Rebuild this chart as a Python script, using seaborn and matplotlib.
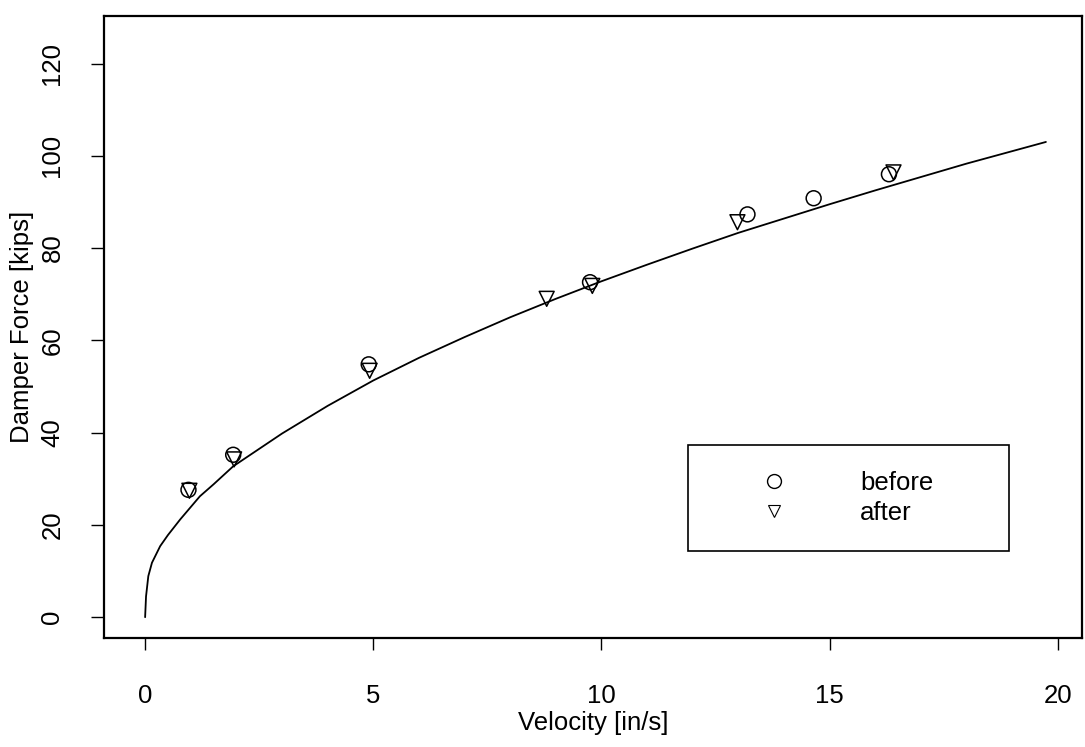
import pandas as pd
import seaborn as sns
import matplotlib.pyplot as plt
from matplotlib.lines import Line2D

# fitted damper curve
curve_v = [0, 0.02, 0.07, 0.15, 0.33, 0.5, 0.77, 1.2, 1.5, 1.93, 3, 4, 5, 6, 7,
           8, 9, 10, 11, 12, 13, 14, 15, 16, 17, 18, 19, 19.74]
curve_f = [0, 4.5, 8.9, 11.8, 15.4, 17.8, 21.2, 26.2, 28.8, 32.7, 39.8, 45.8, 51.3,
           56.2, 60.7, 65.0, 69.0, 72.8, 76.4, 79.9, 83.3, 86.4, 89.5, 92.5, 95.4,
           98.3, 101.0, 103.0]

# test points
before_v = [0.95, 1.93, 4.9, 9.75, 13.2, 14.65, 16.3]
before_f = [27.6, 35.2, 54.8, 72.6, 87.3, 90.8, 96.0]
after_v = [0.97, 1.95, 4.92, 8.8, 9.8, 12.98, 16.4]
after_f = [27.4, 34.2, 53.4, 69.0, 71.8, 85.6, 96.4]

curve = pd.DataFrame({"v": curve_v, "f": curve_f})
pts = pd.DataFrame({
    "v": before_v + after_v,
    "f": before_f + after_f,
    "state": ["before"] * len(before_v) + ["after"] * len(after_v),
})

sns.set_style("ticks")
plt.rcParams["font.family"] = ["Liberation Sans", "DejaVu Sans"]
plt.rcParams["font.size"] = 18.5
plt.rcParams["text.color"] = "black"
plt.rcParams["axes.labelcolor"] = "black"
plt.rcParams["xtick.color"] = "black"
plt.rcParams["ytick.color"] = "black"

fig = plt.figure(figsize=(10.85, 7.47), dpi=100)
ax = fig.add_axes([0.0959, 0.146, 0.9013, 0.8326])

sns.lineplot(data=curve, x="v", y="f", ax=ax, color="black", linewidth=1.3)
sns.scatterplot(data=pts, x="v", y="f", style="state",
                markers={"before": "o", "after": "v"}, s=115,
                color="black", facecolor="none", edgecolor="black",
                linewidth=1.1, ax=ax, legend=False)

ax.set_xlim(-0.9, 20.53)
ax.set_ylim(-4.5, 130.3)
ax.set_xticks([0, 5, 10, 15, 20])
ax.set_yticks([0, 20, 40, 60, 80, 100, 120])
ax.set_xlabel("Velocity [in/s]", labelpad=2)
ax.set_ylabel("Damper Force [kips]", labelpad=5)
ax.tick_params(axis="x", length=8.5, width=1, pad=25, labelsize=18.5)
ax.tick_params(axis="y", length=9.5, width=1, pad=19, labelsize=18.5)
for lab in ax.get_yticklabels():
    lab.set_rotation(90)
    lab.set_va("center")
for sp in ax.spines.values():
    sp.set_visible(True)
    sp.set_linewidth(1.6)
    sp.set_color("black")

handles = [
    Line2D([], [], marker="o", linestyle="none", markersize=10,
           markerfacecolor="none", markeredgecolor="black", markeredgewidth=1),
    Line2D([], [], marker="v", linestyle="none", markersize=9,
           markerfacecolor="none", markeredgecolor="black", markeredgewidth=0.8),
]
leg = ax.legend(handles, ["before", "after"], loc="upper left",
                bbox_to_anchor=(0.597, 0.138, 0.328, 0.172), mode="expand",
                borderpad=1.0, handlelength=4.7, handletextpad=1.0,
                labelspacing=0.25, fancybox=False, framealpha=1,
                edgecolor="black", fontsize=18.5, borderaxespad=0)
leg.get_frame().set_linewidth(1.2)

plt.savefig("out.png", dpi=100)
